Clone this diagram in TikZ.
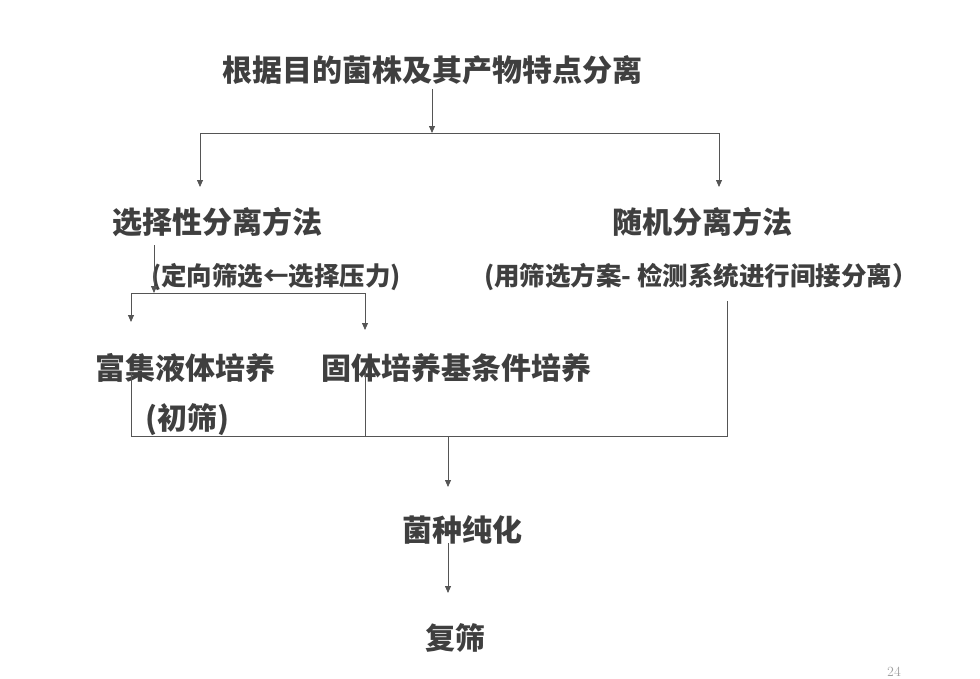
\documentclass[tikz,border=0pt]{standalone}
\usepackage{fontspec}
\newfontfamily\cjk{Noto Sans CJK SC}
\usepackage{xcolor}
\usetikzlibrary{arrows.meta}
\usetikzlibrary{positioning}

\definecolor{inkgray}{HTML}{3F3F3F}
\definecolor{linegray}{HTML}{555555}

\tikzset{
	bigtext/.style={font=\cjk\bfseries\fontsize{30}{34}\selectfont, text=inkgray, inner sep=0pt},
	smalltext/.style={font=\cjk\bfseries\fontsize{25.5}{29}\selectfont, text=inkgray, inner sep=0pt},
	link/.style={draw=linegray, line width=0.8pt},
	arr/.style={link, -{Triangle[length=7pt,width=6pt]}},
}

\begin{document}
\begin{tikzpicture}[x=1pt, y=-1pt] % separation flow chart
	
	\useasboundingbox (0,0) rectangle (980,678);
	
	%labels
	\node[bigtext] (title) at (432,70) {根据目的菌株及其产物特点分离};
	\node[bigtext] (sel) at (217,222) {选择性分离方法};
	\node[bigtext] (rand) at (702,222) {随机分离方法};
	\node[smalltext] (selnote) at (276,277) {(定向筛选←选择压力)};
	\node[smalltext] (randnote) at (701,277) {(用筛选方案- 检测系统进行间接分离）};
	\node[bigtext] (liq) at (185,368) {富集液体培养};
	\node[bigtext] (sol) at (456,368) {固体培养基条件培养};
	\node[bigtext] (liqnote) at (187,420) {(初筛)};
	\node[bigtext] (pure) at (462,530) {菌种纯化};
	\node[bigtext] (rescreen) at (455,638) {复筛};
	\node[font=\fontsize{14}{15}\selectfont, text=gray!75, inner sep=0pt] (page) at (894,672) {24};
	
	%junctions
	\coordinate (topHub) at (432,133);
	\coordinate (topL) at (200,133);
	\coordinate (topR) at (719,133);
	\coordinate (selIn) at (200,187);
	\coordinate (randIn) at (719,187);
	\coordinate (selOut) at (154,245);
	\coordinate (selHub) at (154,293);
	\coordinate (liqHub) at (131,293);
	\coordinate (solHub) at (365,293);
	\coordinate (liqIn) at (131,322);
	\coordinate (solIn) at (365,330);
	\coordinate (liqOut) at (131,372);
	\coordinate (solOut) at (365,368);
	\coordinate (randOut) at (727,301);
	\coordinate (joinL) at (131,436);
	\coordinate (joinM) at (365,436);
	\coordinate (joinR) at (727,436);
	\coordinate (joinHub) at (448,436);
	\coordinate (pureIn) at (448,487);
	\coordinate (pureOut) at (448,543);
	\coordinate (rescreenIn) at (448,593);
	
	%arrows
	\draw[arr] ([yshift=-4pt]title.south) -- (topHub);
	\draw[link] (topL) -- (topR);
	\draw[arr] (topL) -- (selIn);
	\draw[arr] (topR) -- (randIn);
	
	\draw[arr] (selOut) -- (selHub);
	\draw[link] (liqHub) -- (solHub);
	\draw[arr] (liqHub) -- (liqIn);
	\draw[arr] (solHub) -- (solIn);
	
	\draw[link] (liqOut) -- (joinL) -- (joinR) -- (randOut);
	\draw[link] (solOut) -- (joinM);
	\draw[arr] (joinHub) -- (pureIn);
	\draw[arr] (pureOut) -- (rescreenIn);
	
\end{tikzpicture}
\end{document}
